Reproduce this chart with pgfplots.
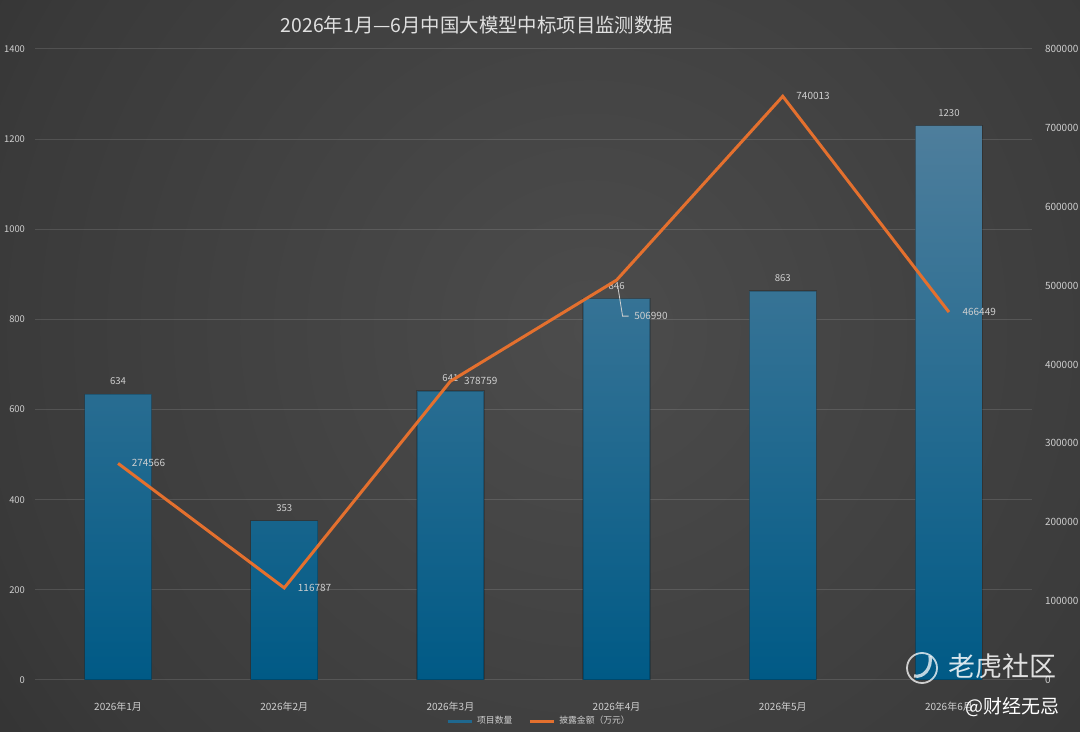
\documentclass[border=0pt]{standalone}
\usepackage{fontspec}
\setmainfont{Noto Sans CJK SC}
\usepackage{pgfplots}
\pgfplotsset{compat=1.18}
\definecolor{bgc}{HTML}{4C4C4C}
\definecolor{bgm}{HTML}{3A3A3A}
\definecolor{bgn}{HTML}{272727}
\definecolor{bge}{HTML}{1E1E1E}
\definecolor{bartop}{HTML}{4E7E9C}
\definecolor{barbot}{HTML}{005A86}
\definecolor{lineor}{HTML}{E4702E}
\definecolor{txt}{HTML}{CFCFCF}
\pgfdeclareradialshading{bgshade}{\pgfpoint{0bp}{0bp}}{color(0bp)=(bgc); color(25bp)=(bgm); color(41.7bp)=(bgn); color(50bp)=(bge)}
\begin{document}
\begin{tikzpicture}[x=1pt,y=1pt]
\useasboundingbox (0,0) rectangle (540,366);
\begin{scope}
\clip (0,0) rectangle (540,366);
\fill[bge] (0,0) rectangle (540,366);
\shade[shading=bgshade] (-5,-99) rectangle (595,501);
\end{scope}
\begin{axis}[
  scale only axis, width=498.5pt, height=315.5pt,
  at={(17.5pt,26pt)}, anchor=south west,
  xmin=-0.5, xmax=5.5, ymin=0, ymax=1400,
  ytick={0,200,...,1400},
  xtick={0,...,5},
  xticklabels={2026年1月,2026年2月,2026年3月,2026年4月,2026年5月,2026年6月},
  axis line style={draw=none}, tick style={draw=none},
  ymajorgrids, grid style={white, opacity=0.12, line width=0.5pt},
  /pgf/number format/assume math mode=true,
  /pgf/number format/1000 sep={},
  ticklabel style={font=\fontsize{5}{6}\selectfont, text=txt},
  yticklabel style={font=\fontsize{4.7}{5.5}\selectfont, xshift=-1.5pt},
  xticklabel style={yshift=-3pt},
  ybar, bar width=33.5pt,
]
\addplot[ybar, draw=black, draw opacity=0.2, line width=0.6pt,
  top color=bartop, bottom color=barbot,
  nodes near coords,
  every node near coord/.append style={font=\fontsize{4.8}{6}\selectfont, text=txt, yshift=1pt, /pgf/number format/assume math mode=true, /pgf/number format/1000 sep={}}]
  coordinates {(0,634) (1,353) (2,641) (3,846) (4,863) (5,1230)};
\end{axis}
\begin{axis}[
  scale only axis, width=498.5pt, height=315.5pt,
  at={(17.5pt,26pt)}, anchor=south west,
  xmin=-0.5, xmax=5.5, ymin=0, ymax=800000,
  axis y line*=right, axis x line=none,
  ytick={0,100000,...,800000},
  scaled y ticks=false,
  yticklabel style={/pgf/number format/fixed, /pgf/number format/1000 sep={}, xshift=3pt},
  /pgf/number format/assume math mode=true,
  axis line style={draw=none}, tick style={draw=none},
  ticklabel style={font=\fontsize{5}{6}\selectfont, text=txt},
  legend style={draw=none, fill=none, text=txt, font=\fontsize{4.4}{5.5}\selectfont,
    at={(0.5065,-0.066)}, anchor=center, legend columns=2,
    /tikz/every even column/.append style={column sep=6pt}},
  legend image code/.code={\draw[#1, line width=1.5pt] (0pt,0pt) -- (12pt,0pt);},
]
\addlegendimage{color=bartop!40!barbot}
\addplot[lineor, line width=1.5pt, mark=none, line join=miter]
  coordinates {(0,274566) (1,116787) (2,378759) (3,506990) (4,740013) (5,466449)};
\addplot[draw=none, mark=none, forget plot, point meta=explicit symbolic,
  nodes near coords,
  every node near coord/.append style={font=\fontsize{5}{6}\selectfont, text=txt, anchor=west, xshift=3.3pt}]
  coordinates {(0,274566) [274566] (1,116787) [116787] (2,378759) [378759] (4,740013) [740013] (5,466449) [466449]};
\addplot[draw=none, mark=none, forget plot, point meta=explicit symbolic,
  nodes near coords,
  every node near coord/.append style={font=\fontsize{5}{6}\selectfont, text=txt, anchor=west, xshift=5.3pt, yshift=-18pt}]
  coordinates {(3,506990) [506990]};
\draw[txt, line width=0.4pt] (axis cs:3,506990) ++(0.5pt,-2.5pt) -- ++(2.5pt,-15.5pt) -- ++(3pt,0pt);
\legend{项目数量,披露金额（万元）}
\end{axis}
\node[font=\fontsize{9.7}{11}\selectfont, text=white!88!black] at (238.5,353.5) {2026年1月—6月中国大模型中标项目监测数据};
\draw[white, opacity=0.75, line width=0.9pt] (461,32) circle (7.5pt);
\draw[white, opacity=0.75, line width=1.6pt] (457,28) .. controls (462,27) and (466,32) .. (465,38);
\node[font=\fontsize{13.5}{15}\selectfont, text=white, opacity=0.85] at (501,33) {老虎社区};
\node[font=\fontsize{9.5}{11}\selectfont, text=white] at (506,12.5) {@财经无忌};
\end{tikzpicture}
\end{document}
